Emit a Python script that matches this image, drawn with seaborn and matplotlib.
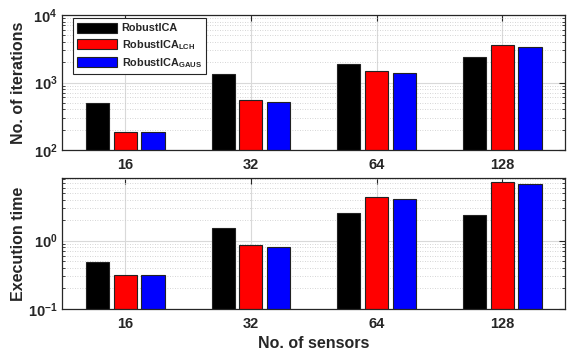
import matplotlib
matplotlib.use("Agg")
import matplotlib.pyplot as plt
import seaborn as sns
import pandas as pd
import numpy as np

sensors = ["16", "32", "64", "128"]
methods = ["RobustICA", "RobustICA$_{\\mathbf{LCH}}$", "RobustICA$_{\\mathbf{GAUS}}$"]
iter_robust = [500, 1336, 1860, 2410]
iter_lch = [183, 545, 1466, 3630]
iter_gaus = [182, 508, 1368, 3390]
time_robust = [0.49, 1.52, 2.57, 2.38]
time_lch = [0.31, 0.865, 4.32, 7.23]
time_gaus = [0.31, 0.81, 4.07, 6.70]
colors = ["#000000", "#ff0000", "#0000ff"]

sns.set_style("white")
plt.rcParams["font.family"] = ["Liberation Sans", "DejaVu Sans"]
plt.rcParams["font.weight"] = "bold"
plt.rcParams["axes.labelweight"] = "bold"
plt.rcParams["mathtext.fontset"] = "custom"
plt.rcParams["mathtext.rm"] = "Liberation Sans:bold"
plt.rcParams["mathtext.bf"] = "Liberation Sans:bold"
plt.rcParams["mathtext.default"] = "bf"

def long_df(a, b, c):
    rows = []
    for vals, m in zip([a, b, c], methods):
        for s, v in zip(sensors, vals):
            rows.append({"sensors": s, "method": m, "value": v})
    return pd.DataFrame(rows)

df_iter = long_df(iter_robust, iter_lch, iter_gaus)
df_time = long_df(time_robust, time_lch, time_gaus)

fig = plt.figure(figsize=(5.67, 3.53), dpi=100)
ax1 = fig.add_axes([0.110, 0.575, 0.8865, 0.3825])
ax2 = fig.add_axes([0.110, 0.1246, 0.8865, 0.3704])

for ax, df, ylim in [(ax1, df_iter, (100, 10000)), (ax2, df_time, (0.1, 8.2))]:
    ax.set_yscale("log")
    sns.barplot(data=df, x="sensors", y="value", hue="method", order=sensors,
                hue_order=methods, palette=colors, saturation=1, width=0.664, gap=0.17,
                edgecolor="#222222", linewidth=0.8, ax=ax, legend=(ax is ax1),
                err_kws={"linewidth": 0})
    ax.set_ylim(*ylim)
    ax.set_xlim(-0.5, 3.5)
    ax.set_axisbelow(True)
    ax.grid(which="major", axis="both", color="#d9d9d9", linewidth=0.8, linestyle="-")
    ax.grid(which="minor", axis="y", color="#c8c8c8", linewidth=0.6, linestyle=(0, (1, 2)))
    ax.tick_params(axis="both", which="major", direction="in", length=4, width=0.8,
                   labelsize=10.5, top=True, right=True, color="#262626",
                   labelcolor="#262626")
    ax.tick_params(axis="x", which="major", pad=6)
    ax.tick_params(axis="y", which="minor", direction="in", length=2.5, width=0.6,
                   left=True, right=True, color="#262626")
    for lab in ax.get_xticklabels() + ax.get_yticklabels():
        lab.set_fontweight("bold")
    for sp in ax.spines.values():
        sp.set_color("#262626")
        sp.set_linewidth(0.9)
    ax.set_xlabel("")

ax1.set_ylabel("No. of iterations", fontsize=11.5, fontweight="bold", color="#262626")
ax2.set_ylabel("Execution time", fontsize=11.5, fontweight="bold", color="#262626")
ax1.yaxis.set_label_coords(-0.072, 0.5)
ax2.yaxis.set_label_coords(-0.072, 0.5)
ax2.set_xlabel("No. of sensors", fontsize=11.5, fontweight="bold", labelpad=3, color="#262626")

handles, labels = ax1.get_legend_handles_labels()
leg = ax1.legend(handles, labels, loc="upper left", bbox_to_anchor=(0.021, 0.975),
                 borderaxespad=0, frameon=True, fancybox=False, edgecolor="#262626",
                 framealpha=1, prop={"size": 7.8, "weight": "bold"},
                 handlelength=3.7, handleheight=1.05, handletextpad=0.4,
                 labelspacing=0.4, borderpad=0.4)
leg.get_frame().set_linewidth(0.8)

fig.savefig("out.png", dpi=100)
